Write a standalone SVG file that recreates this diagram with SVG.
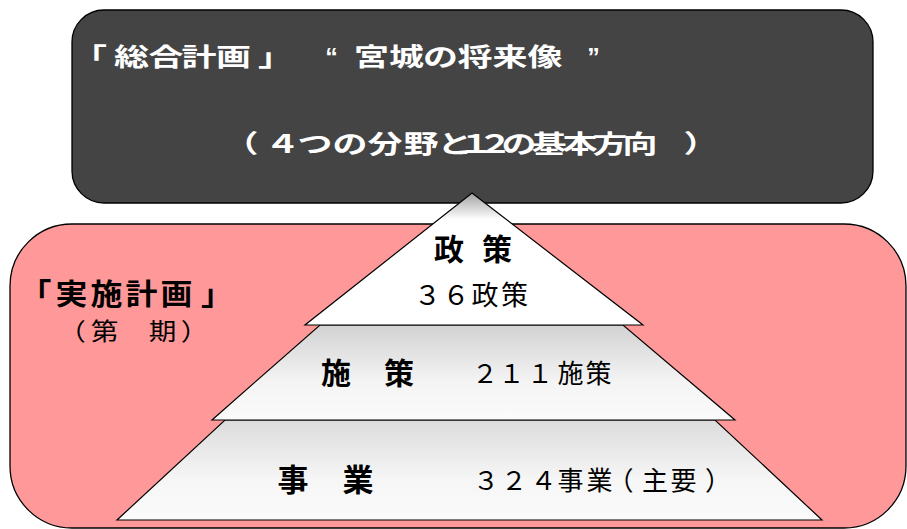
<svg xmlns="http://www.w3.org/2000/svg" width="907" height="529" viewBox="0 0 907 529">
<defs>
<style>
.t{font-family:"Noto Sans CJK JP","Noto Sans",sans-serif;text-anchor:middle}
.w{fill:#fff;font-weight:bold}
.b{fill:#000;font-weight:bold}
.r{fill:#000;font-weight:normal}
.box{stroke:#000;stroke-width:1.3}
.py{stroke:#000;stroke-width:1.2;stroke-linejoin:miter}
</style>
<linearGradient id="gTop" x1="0" y1="0" x2="0" y2="1">
<stop offset="0" stop-color="#a0a0a0"/>
<stop offset="0.2" stop-color="#ffffff"/>
<stop offset="1" stop-color="#ffffff"/>
</linearGradient>
<linearGradient id="gMid" x1="0" y1="0" x2="0" y2="1">
<stop offset="0" stop-color="#d2d2d2"/>
<stop offset="0.6" stop-color="#f4f4f4"/>
<stop offset="1" stop-color="#fbfbfb"/>
</linearGradient>
<linearGradient id="gBot" x1="0" y1="0" x2="0" y2="1">
<stop offset="0" stop-color="#dcdcdc"/>
<stop offset="0.6" stop-color="#f6f6f6"/>
<stop offset="1" stop-color="#fbfbfb"/>
</linearGradient>
</defs>

<g id="general-plan">
<rect class="box" x="72" y="10" width="801" height="193" rx="32" ry="32" fill="#444444"/>
<g transform="scale(1.4,1)">
<text class="t w" font-size="25" y="66" x="63.9 93.9 118.6 142.1 166.8 196.8">「総合計画」</text>
<text class="t w" font-size="25" y="66" x="265.4 290.4 314.6 339.3 364.3 389.3">宮城の将来像</text>
<text class="t w" font-size="25" y="153" x="172.1 201.8 225 250 275 300.7 325 340 353.6 370.7 392.1 414.3 435.7 457.1 500.7">（４つの分野と１２の基本方向）</text>
</g>
<text font-family="Liberation Sans, sans-serif" font-weight="bold" font-size="25" fill="#fff" text-anchor="middle" x="331.5" y="66">“</text>
<text font-family="Liberation Sans, sans-serif" font-weight="bold" font-size="25" fill="#fff" text-anchor="middle" x="593.5" y="66">”</text>
</g>

<g id="implementation-plan">
<rect class="box" x="10" y="224" width="896" height="304" rx="62" ry="62" fill="#ff9999"/>
<g transform="scale(1.1,1)">
<text class="t b" font-size="29" y="305" x="32.3 65 96.8 128.6 160.5 197.3">「実施計画」</text>
</g>
<g transform="scale(1.15,1)">
<text class="t r" font-size="24" y="340" x="62.6 90.9 116 141.3 169.1">（第　期）</text>
</g>
</g>

<g id="connectors"></g>

<g id="level-jigyo">
<polygon class="py" points="225,420 715,420 822,520 117,520" fill="url(#gBot)"/>
<text class="t b" font-size="31" y="491" x="293 325 358">事　業</text>
<text class="t r" font-size="26" y="490" x="486 514 543.5 570.5 599.5 620.5 655 683.5 718">３２４事業（主要）</text>
</g>

<g id="level-shisaku">
<polygon class="py" points="320,325 623,325 735,420 212,420" fill="url(#gMid)"/>
<text class="t b" font-size="30" y="384" x="336 367 399">施　策</text>
<text class="t r" font-size="26" y="383" x="485 511.5 540 570.5 598.5">２１１施策</text>
</g>

<g id="level-seisaku">
<polygon class="py" points="472,193 643,325 305,325" fill="url(#gTop)"/>
<text class="t b" font-size="30" y="260" x="449 473 497">政 策</text>
<text class="t r" font-size="27" y="305" x="427.5 456 485 514.5">３６政策</text>
</g>
</svg>
